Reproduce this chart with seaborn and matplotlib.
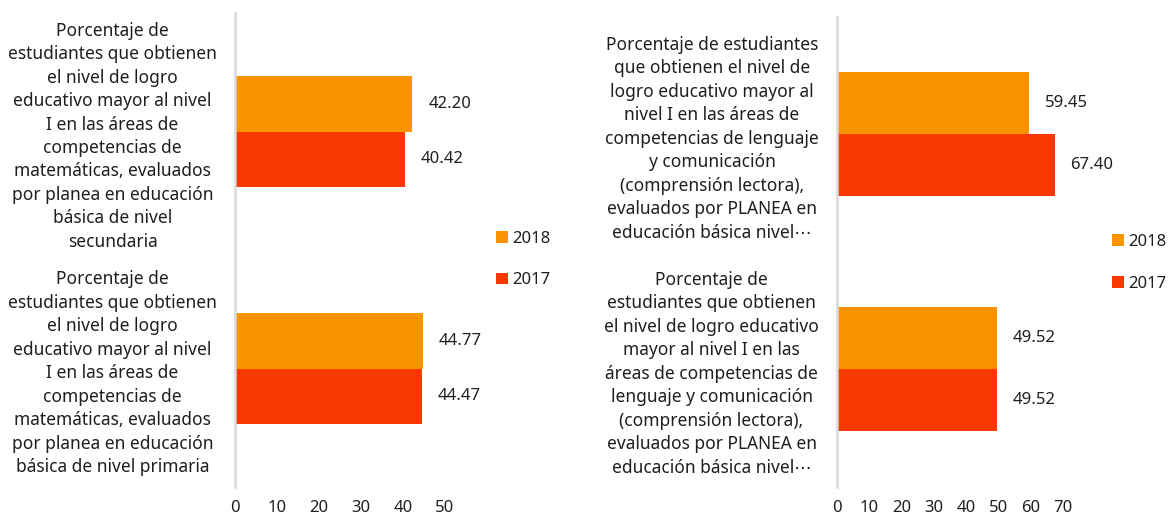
import matplotlib
matplotlib.use("Agg")
import matplotlib.pyplot as plt
from matplotlib.patches import Patch
import pandas as pd
import seaborn as sns

sns.set_theme(style="white")
plt.rcParams["font.family"] = ["Noto Sans", "DejaVu Sans"]

# Indicator labels (wrapped as they appear on the axis)
mat_labels = [
    "Porcentaje de\nestudiantes que obtienen\nel nivel de logro\neducativo mayor al nivel\n"
    "I en las áreas de\ncompetencias de\nmatemáticas, evaluados\npor planea en educación\n"
    "básica de nivel\nsecundaria",
    "Porcentaje de\nestudiantes que obtienen\nel nivel de logro\neducativo mayor al nivel\n"
    "I en las áreas de\ncompetencias de\nmatemáticas, evaluados\npor planea en educación\n"
    "básica de nivel primaria",
]
len_labels = [
    "Porcentaje de estudiantes\nque obtienen el nivel de\nlogro educativo mayor al\n"
    "nivel I en las áreas de\ncompetencias de lenguaje\ny comunicación\n"
    "(comprensión lectora),\nevaluados por PLANEA en\neducación básica nivel⋯",
    "Porcentaje de\nestudiantes que obtienen\nel nivel de logro educativo\n"
    "mayor al nivel I en las\náreas de competencias de\nlenguaje y comunicación\n"
    "(comprensión lectora),\nevaluados por PLANEA en\neducación básica nivel⋯",
]

years = ["2018", "2017"]
mat_2018 = [42.20, 44.77]
mat_2017 = [40.42, 44.47]
len_2018 = [59.45, 49.52]
len_2017 = [67.40, 49.52]

mat_ticks = [0, 10, 20, 30, 40, 50]
len_ticks = [0, 10, 20, 30, 40, 50, 60, 70]

palette = {"2018": "#F79400", "2017": "#F93A00"}
text_color = "#1f1f1f"
axis_color = "#d9d9d9"


def make_frame(labels, v2018, v2017):
    rows = []
    for lab, a, b in zip(labels, v2018, v2017):
        rows.append({"indicador": lab, "año": "2018", "valor": a})
        rows.append({"indicador": lab, "año": "2017", "valor": b})
    return pd.DataFrame(rows)


fig = plt.figure(figsize=(11.69, 5.18), dpi=100)
W, H = 1169, 518


def panel(x0, x1, y0, y1, df, labels, ticks, width, legend_xy):
    ax = fig.add_axes([x0 / W, 1 - y1 / H, (x1 - x0) / W, (y1 - y0) / H])
    sns.barplot(data=df, y="indicador", x="valor", hue="año", order=labels,
                hue_order=years, palette=palette, orient="h", width=width,
                saturation=1, linewidth=0, ax=ax, legend=False)
    for cont in ax.containers:
        ax.bar_label(cont, fmt="%.2f", padding=11.5, fontsize=12,
                     color=text_color, clip_on=False)
    ax.set_xlim(ticks[0], ticks[-1])
    ax.set_ylim(len(labels) - 0.5, -0.5)
    ax.set_xticks(ticks)
    ax.set_xticklabels([str(t) for t in ticks])
    ax.set_xlabel("")
    ax.set_ylabel("")
    for side in ["top", "right", "bottom"]:
        ax.spines[side].set_visible(False)
    ax.spines["left"].set_color(axis_color)
    ax.spines["left"].set_linewidth(1.8)
    ax.tick_params(axis="x", length=0, pad=9.5, labelsize=12, colors=text_color)
    ax.tick_params(axis="y", length=0, pad=13, labelsize=12.5, colors=text_color)
    for t in ax.get_yticklabels():
        t.set_multialignment("center")
        t.set_linespacing(1.39)
    handles = [Patch(facecolor=palette[y], edgecolor="none", label=y) for y in years]
    fig.legend(handles=handles, loc="center left",
               bbox_to_anchor=(legend_xy[0] / W, 1 - legend_xy[1] / H),
               frameon=False, fontsize=12, handlelength=0.7, handleheight=0.7,
               handletextpad=0.25, labelspacing=1.55, borderpad=0,
               borderaxespad=0, labelcolor=text_color)
    return ax


panel(235, 445, 13, 487, make_frame(mat_labels, mat_2018, mat_2017),
      mat_labels, mat_ticks, 0.47, (496, 259.5))
panel(837, 1063, 16.5, 486.5, make_frame(len_labels, len_2018, len_2017),
      len_labels, len_ticks, 0.53, (1112, 263))

fig.savefig("out.png", dpi=100)
